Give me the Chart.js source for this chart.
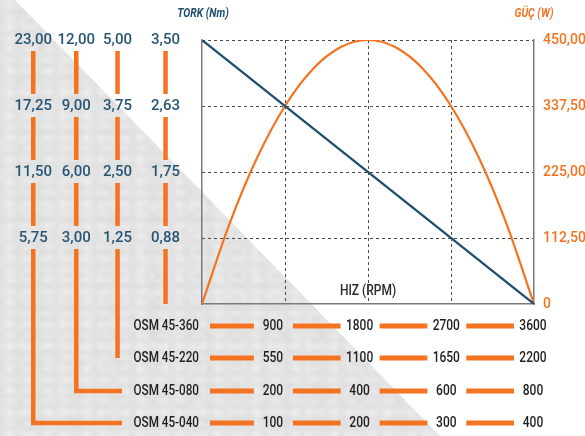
<!DOCTYPE html>
<html>
<head>
<meta charset="utf-8">
<script src="https://cdn.jsdelivr.net/npm/chart.js@4.4.1/dist/chart.umd.min.js"></script>
<style>
  html, body { margin: 0; padding: 0; background: #fff; }
  #wrap { position: relative; width: 585px; height: 436px; overflow: hidden; }
  #stone {
    position: absolute; left: 0; top: 0; width: 585px; height: 436px;
    clip-path: polygon(0 0, 15px 0, 440px 436px, 0 436px);
    background-color: #e3e3e3;
    background-image:
      radial-gradient(ellipse at 50% 50%, rgba(255,255,255,.28) 0, rgba(255,255,255,0) 65%),
      radial-gradient(ellipse at 50% 50%, rgba(205,205,205,.22) 0, rgba(205,205,205,0) 60%),
      radial-gradient(ellipse at 50% 50%, rgba(248,248,248,.28) 0, rgba(248,248,248,0) 55%),
      radial-gradient(ellipse at 50% 50%, rgba(195,195,195,.18) 0, rgba(195,195,195,0) 60%);
    background-size: 19px 11px, 27px 17px, 13px 23px, 41px 29px;
    background-position: 0 0, 7px 5px, 3px 11px, 13px 2px;
  }
  canvas { position: absolute; left: 0; top: 0; }
</style>
</head>
<body>
<div id="wrap">
  <div id="stone"></div>
  <canvas id="grafica" width="585" height="436"></canvas>
</div>
<script>
// datos
const modelos = ['OSM 45-040', 'OSM 45-080', 'OSM 45-220', 'OSM 45-360'];
const torkMax = [23, 12, 5, 3.5];
const rpmFilas = [
  [100, 200, 300, 400],
  [200, 400, 600, 800],
  [550, 1100, 1650, 2200],
  [900, 1800, 2700, 3600]
];
const torkRpm = [0, 3600];
const torkNm = [3.5, 0];
const gucRpm = [0, 300, 600, 900, 1200, 1500, 1800, 2100, 2400, 2700, 3000, 3300, 3600];
const gucW = [0, 137.5, 250, 337.5, 400, 437.5, 450, 437.5, 400, 337.5, 250, 137.5, 0];

const naranja = '#f37321';
const azul = '#1f4f6e';
const fuente = "Roboto, 'Liberation Sans', sans-serif";

const coma = v => v.toFixed(2).replace('.', ',');

// y de cada fila de modelo (040 abajo, 360 arriba)
const filaY = [423, 391, 358, 326];

// texto un poco estrecho, como la tipografia condensada del original
const texto = (ctx, str, x, y, align, font, color, sx) => {
  ctx.save();
  ctx.translate(x, y);
  ctx.scale(sx, 1);
  ctx.font = font;
  ctx.fillStyle = color;
  ctx.textAlign = align;
  ctx.textBaseline = 'middle';
  ctx.fillText(str, 0, 0);
  ctx.restore();
};

const decoracion = {
  id: 'decoracion',
  afterDraw(chart) {
    const {ctx, chartArea: a, scales} = chart;
    ctx.save();

    // columnas de tork con barras naranjas
    ['y0', 'y1', 'y2', 'y3'].forEach((id, i) => {
      const s = scales[id];
      const items = s.getLabelItems();
      const cx = items.length ? items[items.length - 1].options.translation[0] : s.left + s.width / 2;
      const pasos = [4, 3, 2, 1].map(k => s.getPixelForValue(torkMax[i] * k / 4));
      ctx.strokeStyle = naranja;
      ctx.lineWidth = 4.5;
      ctx.lineCap = 'butt';
      for (let k = 0; k < 3; k++) {
        ctx.beginPath();
        ctx.moveTo(cx, pasos[k] + 11);
        ctx.lineTo(cx, pasos[k + 1] - 12);
        ctx.stroke();
      }
      let fin = i === 3 ? a.bottom : filaY[i];
      ctx.beginPath();
      ctx.moveTo(cx, pasos[3] + 11);
      ctx.lineTo(cx, fin);
      if (i < 2) ctx.lineTo(122, fin);
      ctx.stroke();
    });

    // filas de modelos
    modelos.forEach((m, i) => {
      const y = filaY[i];
      texto(ctx, m, 199, y, 'right', '500 15px ' + fuente, '#1e1e1e', 0.78);
      const centros = [3, 2, 1, 0].map(k => a.right - 1 - k * 86.7);
      ctx.strokeStyle = naranja;
      ctx.lineWidth = 5;
      let desde = a.left + 8;
      centros.forEach((cx, k) => {
        ctx.beginPath();
        ctx.moveTo(desde, y);
        ctx.lineTo(cx - 19, y);
        ctx.stroke();
        texto(ctx, String(rpmFilas[i][k]), cx, y, 'center', '500 15px ' + fuente, '#1e1e1e', 0.8);
        desde = cx + 20;
      });
    });

    // titulos
    texto(ctx, 'HIZ (RPM)', (a.left + a.right) / 2, a.bottom - 13, 'center', '500 15px ' + fuente, '#2a2a2a', 0.8);
    texto(ctx, 'TORK (Nm)', a.left + 1, 14, 'center', 'italic bold 12px ' + fuente, azul, 0.87);
    texto(ctx, 'GÜÇ (W)', a.right, 14, 'center', 'italic bold 12px ' + fuente, naranja, 0.87);
    ctx.restore();
  }
};

const ejeTork = (i, ancho, relleno, peso) => ({
  type: 'linear',
  position: 'left',
  weight: peso,
  min: 0,
  max: torkMax[i],
  grid: { display: false, drawTicks: false },
  border: { display: i === 3, color: '#7a7a7a', width: 1.5 },
  ticks: {
    stepSize: torkMax[i] / 4,
    color: '#275674',
    crossAlign: 'center',
    padding: relleno,
    font: { family: fuente, size: 15, weight: '500' },
    callback: v => v === 0 ? '' : coma(v)
  },
  afterFit: s => { s.width = ancho; }
});

new Chart(document.getElementById('grafica'), {
  type: 'line',
  data: {
    datasets: [
      {
        label: 'Tork',
        data: torkRpm.map((r, i) => ({x: r, y: torkNm[i]})),
        yAxisID: 'y3',
        borderColor: azul,
        borderWidth: 2.2,
        pointRadius: 0
      },
      {
        label: 'Güç',
        data: gucRpm.map((r, i) => ({x: r, y: gucW[i]})),
        yAxisID: 'yP',
        borderColor: naranja,
        borderWidth: 2.2,
        pointRadius: 0,
        cubicInterpolationMode: 'monotone'
      }
    ]
  },
  options: {
    responsive: false,
    animation: false,
    layout: { padding: { top: 40, bottom: 132, left: 0, right: 0 } },
    plugins: { legend: { display: false }, tooltip: { enabled: false } },
    scales: {
      x: {
        type: 'linear',
        min: 0,
        max: 3600,
        ticks: { stepSize: 900, display: false },
        grid: {
          drawTicks: false,
          color: c => (c.tick && (c.tick.value === 0 || c.tick.value === 3600)) ? 'rgba(0,0,0,0)' : '#4a4a4a'
        },
        border: { color: '#7a7a7a', width: 1.5, dash: [3, 3] },
        afterFit: s => { s.height = 0; }
      },
      yP: {
        type: 'linear',
        position: 'right',
        min: 0,
        max: 450,
        grid: {
          drawTicks: false,
          color: c => (c.tick && c.tick.value === 0) ? 'rgba(0,0,0,0)' : '#4a4a4a'
        },
        border: { color: '#7a7a7a', width: 1.5, dash: [3, 3] },
        ticks: {
          stepSize: 112.5,
          color: naranja,
          padding: 9,
          font: { family: fuente, size: 14, weight: '500' },
          callback: v => v === 0 ? '0' : coma(v)
        },
        afterFit: s => { s.width = 51; }
      },
      y3: ejeTork(3, 62, 22, 1),
      y2: ejeTork(2, 42, 8, 2),
      y1: ejeTork(1, 42, 3, 3),
      y0: ejeTork(0, 56, 4, 4)
    }
  },
  plugins: [decoracion]
});
</script>
</body>
</html>
